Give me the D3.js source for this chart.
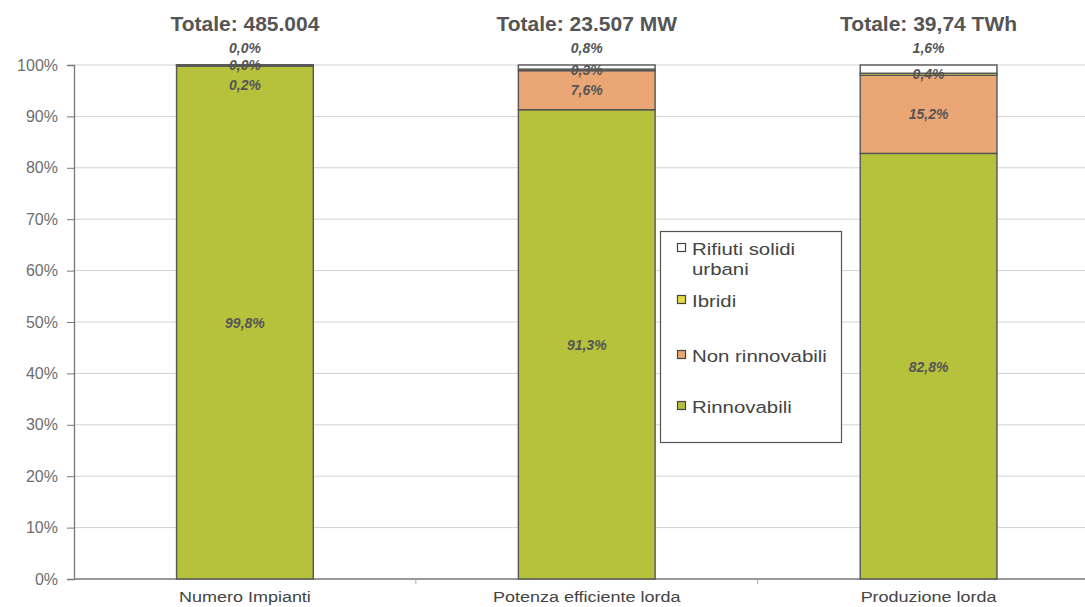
<!DOCTYPE html>
<html><head><meta charset="utf-8">
<script src="https://cdn.jsdelivr.net/npm/d3@7"></script>
<style>body{margin:0;background:#fff}svg{display:block}text{font-family:"Liberation Sans",Arial,sans-serif}</style>
</head><body>
<svg id="c" width="1085" height="607"></svg>
<script>
const categories = ["Numero Impianti", "Potenza efficiente lorda", "Produzione lorda"];
const totals = ["Totale: 485.004", "Totale: 23.507 MW", "Totale: 39,74 TWh"];
const seriesNames = ["Rinnovabili", "Non rinnovabili", "Ibridi", "Rifiuti solidi urbani"];
const rinnovabili = [99.8, 91.3, 82.8];
const nonRinnovabili = [0.2, 7.6, 15.2];
const ibridi = [0.0, 0.3, 0.4];
const rifiuti = [0.0, 0.8, 1.6];
const yTicks = [0, 10, 20, 30, 40, 50, 60, 70, 80, 90, 100];
const colors = ["#b6c13c", "#eba676", "#e6dc4a", "#ffffff"];

const svg = d3.select("#c");
const x = d3.scaleBand().domain(categories).range([74, 1099.5]);
const y = d3.scaleLinear().domain([0, 100]).range([579, 65]);
const barW = x.bandwidth() * 0.4;
const SX = 1.2; // horizontal stretch of the scanned text

// gridlines
svg.append("g").selectAll("line").data(yTicks.slice(1)).join("line")
  .attr("x1", 74).attr("x2", 1085).attr("y1", d => y(d)).attr("y2", d => y(d))
  .attr("stroke", "#d2d2d2").attr("stroke-width", 1);

// y axis
const yAxis = d3.axisLeft(y).tickValues(yTicks).tickFormat(d => d + "%").tickSize(7).tickPadding(9);
const ga = svg.append("g").attr("transform", "translate(74,0)").call(yAxis);
ga.select(".domain").attr("stroke", "#777").attr("stroke-width", 1.3);
ga.selectAll(".tick line").attr("stroke", "#777");
ga.selectAll("text").attr("fill", "#6e6e6e").style("font-family", "Liberation Sans, Arial, sans-serif").style("font-size", "16px");

// x axis
const xa = svg.append("g").attr("transform", "translate(0,579)");
xa.append("line").attr("x1", 74).attr("x2", 1085).attr("stroke", "#777").attr("stroke-width", 1.3);
xa.selectAll("line.t").data(categories.slice(1)).join("line").attr("class", "t")
  .attr("x1", d => x(d)).attr("x2", d => x(d)).attr("y1", 0).attr("y2", 5).attr("stroke", "#aaa");
xa.selectAll("g.cl").data(categories).join("g").attr("class", "cl")
  .attr("transform", d => `translate(${x(d) + x.bandwidth() / 2},23) scale(${SX},1)`)
  .append("text").attr("text-anchor", "middle")
  .attr("fill", "#444").style("font-size", "15px")
  .text(d => d);

// stacked data
const rows = categories.map((c, i) => ({cat: c, vals: [rinnovabili[i], nonRinnovabili[i], ibridi[i], rifiuti[i]]}));
rows.forEach(r => {
  let acc = 0;
  r.segs = r.vals.map((v, k) => { const s = {k, v, y0: acc, y1: acc + v, cat: r.cat}; acc += v; return s; });
});

const bars = svg.append("g");
const fmt = v => v.toFixed(1).replace(".", ",") + "%";
rows.forEach((r, i) => {
  const cx = x(r.cat) + x.bandwidth() / 2;
  bars.selectAll(null).data(r.segs).join("rect")
    .attr("x", cx - barW / 2).attr("width", barW)
    .attr("y", d => y(d.y1)).attr("height", d => Math.max(0.01, y(d.y0) - y(d.y1)))
    .attr("fill", d => colors[d.k]).attr("stroke", "#555").attr("stroke-width", 1.4);

  // labels placed from the top down, avoiding overlaps
  const top = y(r.segs[3].y1);
  const mid = s => (y(s.y0) + y(s.y1)) / 2;
  const l3 = top - 17;
  const l2 = Math.max(mid(r.segs[2]), l3 + 13);
  const l1 = Math.max(mid(r.segs[1]), l2 + 20);
  const lab = [
    {t: fmt(r.segs[3].v), y: l3},
    {t: fmt(r.segs[2].v), y: l2},
    {t: fmt(r.segs[1].v), y: l1},
    {t: fmt(r.segs[0].v), y: mid(r.segs[0]) + 1}
  ];
  bars.selectAll(null).data(lab).join("text")
    .attr("x", cx).attr("y", d => d.y).attr("dy", "0.35em").attr("text-anchor", "middle")
    .attr("fill", "#555")
    .style("font-size", "14px").style("font-weight", "bold").style("font-style", "italic")
    .text(d => d.t);

  svg.append("text").attr("x", cx).attr("y", 31).attr("text-anchor", "middle")
    .attr("fill", "#555")
    .style("font-size", "21px").style("font-weight", "bold")
    .text(totals[i]);
});

// legend
const lg = svg.append("g");
lg.append("rect").attr("x", 660.5).attr("y", 231.5).attr("width", 181).attr("height", 211)
  .attr("fill", "#fff").attr("stroke", "#555").attr("stroke-width", 1.2);
const legendItems = [
  {k: 3, lines: ["Rifiuti solidi", "urbani"], y: 255},
  {k: 2, lines: ["Ibridi"], y: 307},
  {k: 1, lines: ["Non rinnovabili"], y: 362},
  {k: 0, lines: ["Rinnovabili"], y: 413}
];
legendItems.forEach(it => {
  lg.append("rect").attr("x", 677.5).attr("y", it.y - 11.5).attr("width", 8).attr("height", 8)
    .attr("fill", colors[it.k]).attr("stroke", "#444").attr("stroke-width", 1.2);
  it.lines.forEach((l, j) => {
    lg.append("g").attr("transform", `translate(692,${it.y + j * 20}) scale(${SX},1)`)
      .append("text").attr("fill", "#444").style("font-size", "17px").text(l);
  });
});
</script>
</body></html>
